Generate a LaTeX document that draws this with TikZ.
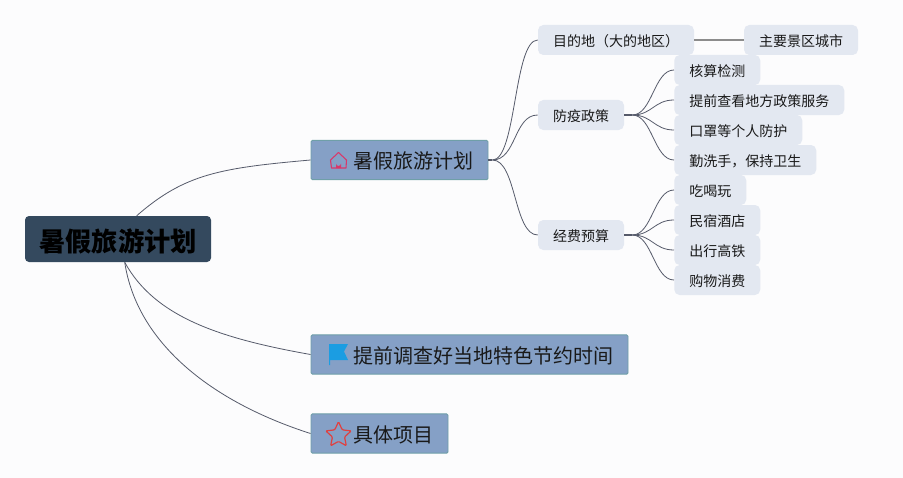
\documentclass[tikz,border=0pt]{standalone}
\usepackage{fontspec}
\setmainfont{Noto Sans CJK SC}
\usetikzlibrary{arrows.meta,calc,shapes.geometric}
\definecolor{pagebg}{HTML}{FCFCFD}
\definecolor{rootfill}{HTML}{34495E}
\definecolor{mainfill}{HTML}{85A0C6}
\definecolor{mainedge}{HTML}{6F9FA8}
\definecolor{subfill}{HTML}{E3E8F1}
\definecolor{linkcol}{HTML}{555A6A}
\definecolor{houseicon}{HTML}{D9386A}
\definecolor{flagicon}{HTML}{1B9DE2}
\definecolor{staricon}{HTML}{E04040}
\begin{document}
\begin{tikzpicture}[
  x=0.75pt,
  y=-0.75pt,
  rootbox/.style={fill=rootfill,rounded corners=3pt,minimum width=139.5pt,minimum height=34.5pt,inner sep=0pt,text height=20.4pt,font=\bfseries\fontsize{19.7}{22}\selectfont,text=black},
  mainbox/.style={fill=mainfill,draw=mainedge,line width=0.7pt,rounded corners=1pt,minimum height=29.5pt,inner sep=0pt,text height=14.7pt,font=\fontsize{15}{18}\selectfont,text=black!90,execute at begin node={\hspace*{21pt}}},
  subbox/.style={fill=subfill,rounded corners=4pt,minimum height=22.5pt,inner sep=0pt,text height=10.7pt,font=\fontsize{10.5}{13}\selectfont,text=black!90},
  leafbox/.style={subbox,anchor=west},
  link/.style={draw=linkcol,line width=0.6pt},
  stub/.style={draw=linkcol,line width=1.4pt},
  bar/.style={draw=black!45,line width=1pt}
]
\useasboundingbox[fill=pagebg] (0,0) rectangle (903,478);

% Root and the three main topics
\node[rootbox] (root) at (118,239) {暑假旅游计划};
\node[mainbox,minimum width=132.75pt] (plan) at (399.5,160) {暑假旅游计划};
\node[mainbox,minimum width=237.75pt] (check) at (469.5,354.5) {提前调查好当地特色节约时间};
\node[mainbox,minimum width=102.75pt] (items) at (379.5,433.5) {具体项目};

\coordinate (rootup) at ($(root.north west)+(112,0)$);
\coordinate (rootdown) at ($(root.south west)+(100,0)$);
\draw[link] (rootup) .. controls +(48,-42) and +(-90,8) .. (plan.west);
\draw[link] (rootdown) .. controls +(30,55) and +(-90,-16) .. (check.west);
\draw[link] (rootdown) .. controls +(12,80) and +(-100,-32) .. (items.west);

% Second level
\node[subbox,minimum width=117pt] (place) at (616,40) {目的地（大的地区）};
\node[subbox,minimum width=85.5pt] (city) at (801,40) {主要景区城市};
\node[subbox,minimum width=64.5pt] (policy) at (581,115) {防疫政策};
\node[subbox,minimum width=64.5pt] (budget) at (581,235) {经费预算};

\draw[bar] (place) -- (city);
\coordinate (planhub) at ($(plan.east)+(4,0)$);
\draw[stub] (plan.east) -- (planhub);
\foreach \n in {place,policy,budget}{
  \draw[link] (planhub) .. controls +(24,0) and +(-24,0) .. (\n.west);
}

% Leaves
\node[leafbox,minimum width=64.5pt] (test) at (674,70) {核算检测};
\node[leafbox,minimum width=127.5pt] (rules) at (674,100) {提前查看地方政策服务};
\node[leafbox,minimum width=96pt] (mask) at (674,130) {口罩等个人防护};
\node[leafbox,minimum width=106.5pt] (wash) at (674,160) {勤洗手，保持卫生};
\node[leafbox,minimum width=54pt] (food) at (674,190) {吃喝玩};
\node[leafbox,minimum width=64.5pt] (hotel) at (674,220) {民宿酒店};
\node[leafbox,minimum width=64.5pt] (train) at (674,250) {出行高铁};
\node[leafbox,minimum width=64.5pt] (shop) at (674,280) {购物消费};

\coordinate (policyhub) at ($(policy.east)+(8,0)$);
\coordinate (budgethub) at ($(budget.east)+(8,0)$);
\draw[stub] (policy.east) -- (policyhub);
\draw[stub] (budget.east) -- (budgethub);
\foreach \n in {test,rules,mask,wash}{
  \draw[link] (policyhub) .. controls +(20,0) and +(-20,0) .. (\n.west);
}
\foreach \n in {food,hotel,train,shop}{
  \draw[link] (budgethub) .. controls +(20,0) and +(-20,0) .. (\n.west);
}

% Icons
\draw[draw=houseicon,line width=0.8pt,line join=round] (338.5,152.5) -- (330.5,160) -- (331.5,168) -- (346,168) -- (346.5,160) -- cycle;
\fill[houseicon] (336,168) -- (336,163.5) arc[start angle=180,end angle=0,radius=2.5] -- (341,168) -- cycle;
\fill[flagicon] (329,344) -- (348,344) -- (344,351.5) -- (348,360) -- (330,360) -- (330,365) -- (329,365) -- cycle;
\node[star,star points=5,star point ratio=2.1,draw=staricon,line width=0.9pt,minimum size=20pt,inner sep=0pt,rounded corners=0.8pt] (starmark) at (338.5,435) {};

\end{tikzpicture}
\end{document}
